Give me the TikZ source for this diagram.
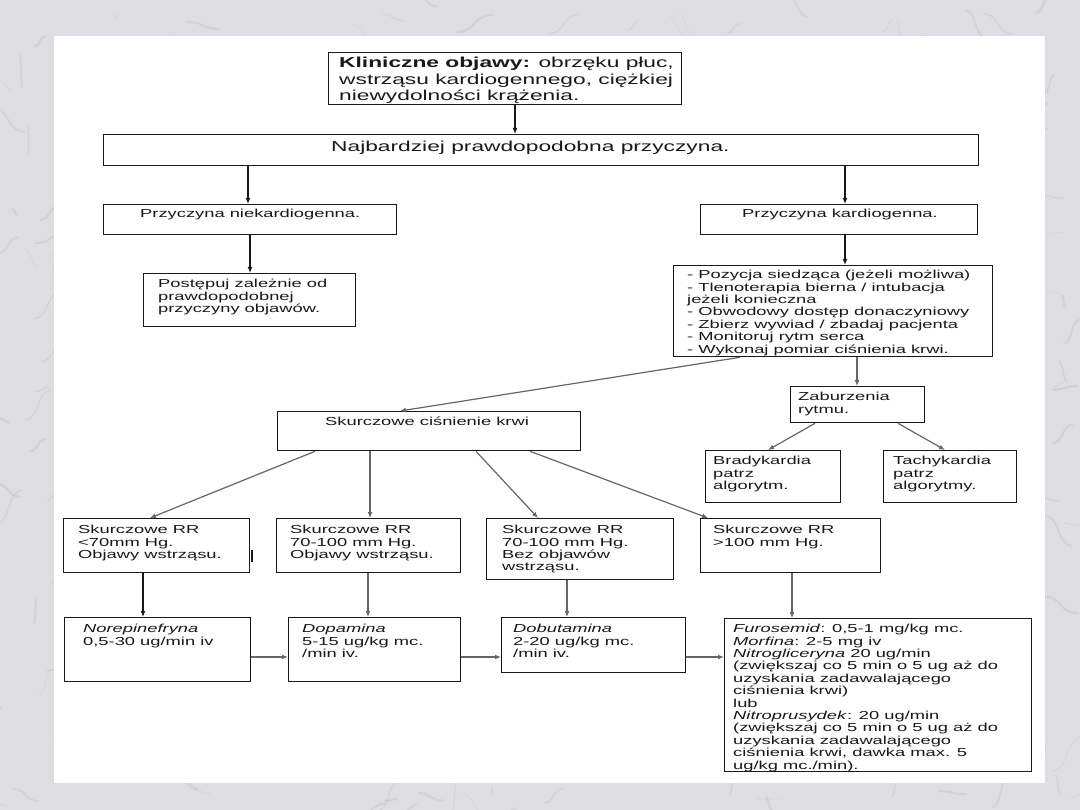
\documentclass[tikz,border=0pt]{standalone}
\usepackage{fontspec}
\setmainfont{Liberation Sans}[FakeStretch=1.58]
\usetikzlibrary{arrows.meta}
\definecolor{marble}{RGB}{222,222,226}
\definecolor{vein}{RGB}{150,150,160}
\definecolor{ink}{RGB}{25,25,25}
\begin{document}
\begin{tikzpicture}[x=1pt,y=-1pt,
  box/.style={draw=ink,line width=1.3pt,inner sep=0pt,anchor=north west,fill=white},
  txt/.style={inner sep=0pt,anchor=north west,align=left,text=ink,
    font=\fontsize{11.6}{12.4}\selectfont,execute at begin node=\strut},
  big/.style={inner sep=0pt,anchor=north west,align=left,text=ink,
    font=\fontsize{14.4}{16.5}\selectfont,execute at begin node=\strut},
  arr/.style={-{Latex[length=6pt,width=5pt]},line width=1.2pt,draw=ink},
  garr/.style={arr,draw=black!60}]
\useasboundingbox (0,0) rectangle (1080,810);
\fill[marble] (0,0) rectangle (1080,810);
\pgfmathsetseed{11}
\begin{scope}
\clip (0,0) rectangle (1080,810);
\foreach \i in {1,...,450}{
  \pgfmathsetmacro\xa{rnd*1080}
  \pgfmathsetmacro\ya{rnd*810}
  \pgfmathsetmacro\dx{(rnd-0.5)*70}
  \pgfmathsetmacro\dy{(rnd-0.5)*70}
  \pgfmathsetmacro\lw{0.3+rnd*2.2}
  \draw[vein,line width=\lw pt,opacity=0.18,line cap=round]
    (\xa,\ya) .. controls (\xa+0.6*\dx,\ya+0.1*\dy) and (\xa+0.4*\dx,\ya+0.9*\dy) .. (\xa+\dx,\ya+\dy);
}
\end{scope}
\fill[white] (54,36) rectangle (1045,783);

% boxes
\node[box,minimum width=353pt,minimum height=52pt] (top) at (328,52) {};
\node[box,minimum width=875pt,minimum height=31pt] (najb) at (103,134) {};
\node[box,minimum width=293pt,minimum height=30pt] (niek) at (103,204) {};
\node[box,minimum width=212pt,minimum height=53pt] (post) at (143,273) {};
\node[box,minimum width=277pt,minimum height=30pt] (kard) at (700,204) {};
\node[box,minimum width=319pt,minimum height=91pt] (list) at (673,265) {};
\node[box,minimum width=134pt,minimum height=36pt] (zab) at (790,386) {};
\node[box,minimum width=303pt,minimum height=39pt] (skurcz) at (277,411) {};
\node[box,minimum width=135pt,minimum height=52pt] (brady) at (705,450) {};
\node[box,minimum width=133pt,minimum height=52pt] (tachy) at (883,450) {};
\node[box,minimum width=186pt,minimum height=54pt] (ra) at (63,518) {};
\node[box,minimum width=184pt,minimum height=54pt] (rb) at (276,518) {};
\node[box,minimum width=187pt,minimum height=61pt] (rc) at (486,518) {};
\node[box,minimum width=180pt,minimum height=54pt] (rd) at (700,518) {};
\node[box,minimum width=186pt,minimum height=64pt] (nor) at (64,617) {};
\node[box,minimum width=172pt,minimum height=64pt] (dop) at (288,617) {};
\node[box,minimum width=184pt,minimum height=55pt] (dob) at (501,617) {};
\node[box,minimum width=307pt,minimum height=153pt] (furo) at (724,618) {};

% texts
\node[big] (ttop) at (339,57) {\textbf{Kliniczne objawy:} obrzęku płuc,\\wstrząsu kardiogennego, ciężkiej\\niewydolności krążenia.};
\node[big] (tnajb) at (331,140) {Najbardziej prawdopodobna przyczyna.};
\node[txt] (tniek) at (140,209) {Przyczyna niekardiogenna.};
\node[txt] (tpost) at (158,279) {Postępuj zależnie od\\prawdopodobnej\\przyczyny objawów.};
\node[txt] (tkard) at (742,209) {Przyczyna kardiogenna.};
\node[txt] (tlist) at (687,270) {- Pozycja siedząca (jeżeli możliwa)\\- Tlenoterapia bierna / intubacja\\jeżeli konieczna\\- Obwodowy dostęp donaczyniowy\\- Zbierz wywiad / zbadaj pacjenta\\- Monitoruj rytm serca\\- Wykonaj pomiar ciśnienia krwi.};
\node[txt] (tzab) at (798,392) {Zaburzenia\\rytmu.};
\node[txt] (tskurcz) at (325,417) {Skurczowe ciśnienie krwi};
\node[txt] (tbrady) at (713,456) {Bradykardia\\patrz\\algorytm.};
\node[txt] (ttachy) at (893,456) {Tachykardia\\patrz\\algorytmy.};
\node[txt] (tra) at (78,525) {Skurczowe RR\\<70mm Hg.\\Objawy wstrząsu.};
\node[txt] (trb) at (290,525) {Skurczowe RR\\70-100 mm Hg.\\Objawy wstrząsu.};
\node[txt] (trc) at (502,525) {Skurczowe RR\\70-100 mm Hg.\\Bez objawów\\wstrząsu.};
\node[txt] (trd) at (713,525) {Skurczowe RR\\>100 mm Hg.};
\node[txt] (tnor) at (83,624) {\textit{Norepinefryna}\\0,5-30 ug/min iv};
\node[txt] (tdop) at (302,624) {\textit{Dopamina}\\5-15 ug/kg mc.\\/min iv.};
\node[txt] (tdob) at (513,624) {\textit{Dobutamina}\\2-20 ug/kg mc.\\/min iv.};
\node[txt] (tfuro) at (733,624) {\textit{Furosemid}: 0,5-1 mg/kg mc.\\\textit{Morfina}: 2-5 mg iv\\\textit{Nitrogliceryna} 20 ug/min\\(zwiększaj co 5 min o 5 ug aż do\\uzyskania zadawalającego\\ciśnienia krwi)\\lub\\\textit{Nitroprusydek}: 20 ug/min\\(zwiększaj co 5 min o 5 ug aż do\\uzyskania zadawalającego\\ciśnienia krwi, dawka max. 5\\ug/kg mc./min).};

% connectors
\draw[arr] (515,0 |- top.south) -- (515,0 |- najb.north);
\draw[arr] (248,0 |- najb.south) -- (248,0 |- niek.north);
\draw[arr] (845,0 |- najb.south) -- (845,0 |- kard.north);
\draw[arr] (250,0 |- niek.south) -- (250,0 |- post.north);
\draw[arr] (845,0 |- kard.south) -- (845,0 |- list.north);
\draw[garr] (857,0 |- list.south) -- (857,0 |- zab.north);
\draw[garr] (740,0 |- list.south) -- (400,0 |- skurcz.north);
\draw[garr] (815,0 |- zab.south) -- (768,0 |- brady.north);
\draw[garr] (898,0 |- zab.south) -- (945,0 |- tachy.north);
\draw[garr] (315,0 |- skurcz.south) -- (150,0 |- ra.north);
\draw[garr] (370,0 |- skurcz.south) -- (370,0 |- rb.north);
\draw[garr] (476,0 |- skurcz.south) -- (538,0 |- rc.north);
\draw[garr] (530,0 |- skurcz.south) -- (708,0 |- rd.north);
\draw[arr] (143,0 |- ra.south) -- (143,0 |- nor.north);
\draw[garr] (368,0 |- rb.south) -- (368,0 |- dop.north);
\draw[garr] (567,0 |- rc.south) -- (567,0 |- dob.north);
\draw[garr] (792,0 |- rd.south) -- (792,0 |- furo.north);
\draw[garr] (nor.east |- 0,657) -- (dop.west |- 0,657);
\draw[garr] (dop.east |- 0,657) -- (dob.west |- 0,657);
\draw[garr] (dob.east |- 0,657) -- (furo.west |- 0,657);
\draw[line width=1.2pt,draw=ink] (252,550) -- (252,562);
\end{tikzpicture}
\end{document}
